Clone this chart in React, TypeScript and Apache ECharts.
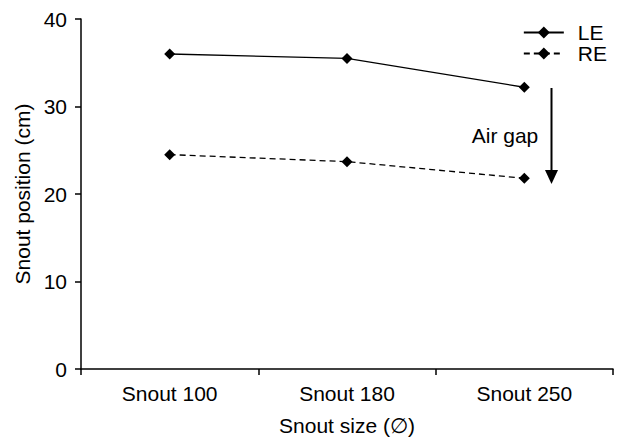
import React, { useEffect, useRef } from "react";
import * as echarts from "echarts";

const categories = ["Snout 100", "Snout 180", "Snout 250"];
const leValues = [36.0, 35.5, 32.2];
const reValues = [24.5, 23.7, 21.8];
const yTicks = [0, 10, 20, 30, 40];

export default function App() {
  const ref = useRef<HTMLDivElement>(null);
  useEffect(() => {
    if (!ref.current) return;
    const chart = echarts.init(ref.current, null, { renderer: "svg" });
    const font = "'Liberation Sans', Arial, sans-serif";
    const fs = 21;
    chart.setOption({
      animation: false,
      textStyle: { fontFamily: font },
      grid: { left: 81, right: 12, top: 19, bottom: 70 },
      legend: {
        orient: "vertical",
        right: 13,
        top: 17,
        itemWidth: 40,
        itemHeight: 15,
        itemGap: 0,
        textStyle: { fontSize: fs, color: "#000", fontFamily: font, padding: [0, 0, 0, 9] },
        data: [{ name: "LE" }, { name: "RE" }],
      },
      xAxis: {
        type: "category",
        data: categories,
        boundaryGap: true,
        axisLine: { lineStyle: { color: "#000", width: 1.5 } },
        axisTick: { show: true, length: 6, lineStyle: { color: "#000", width: 1.5 } },
        axisLabel: { fontSize: fs, color: "#000", margin: 14, fontFamily: font },
        name: "Snout size (\u2205)",
        nameLocation: "middle",
        nameGap: 46,
        nameTextStyle: { fontSize: fs, color: "#000", fontFamily: font },
      },
      yAxis: {
        type: "value",
        min: yTicks[0],
        max: yTicks[yTicks.length - 1],
        interval: 10,
        splitLine: { show: false },
        axisLine: { show: true, lineStyle: { color: "#000", width: 1.5 } },
        axisTick: { show: true, length: 6, lineStyle: { color: "#000", width: 1.5 } },
        axisLabel: { fontSize: fs, color: "#000", margin: 14, fontFamily: font },
        name: "Snout position (cm)",
        nameLocation: "middle",
        nameGap: 45,
        nameTextStyle: { fontSize: fs, color: "#000", fontFamily: font },
      },
      series: [
        {
          name: "LE",
          type: "line",
          data: leValues,
          symbol: "diamond",
          symbolSize: 11,
          itemStyle: { color: "#000" },
          lineStyle: { color: "#000", width: 1.3, type: "solid" },
        },
        {
          name: "RE",
          type: "line",
          data: reValues,
          symbol: "diamond",
          symbolSize: 11,
          itemStyle: { color: "#000" },
          lineStyle: { color: "#000", width: 1.3, type: [6, 4] },
        },
      ],
      graphic: [
        {
          type: "line",
          shape: { x1: 551.5, y1: 88, x2: 551.5, y2: 172 },
          style: { stroke: "#000", lineWidth: 2 },
        },
        {
          type: "polygon",
          shape: { points: [[545, 170], [558, 170], [551.5, 184]] },
          style: { fill: "#000" },
        },
        {
          type: "text",
          x: 505,
          y: 135,
          style: {
            text: "Air gap",
            fontSize: fs,
            fontFamily: font,
            fill: "#000",
            align: "center",
            verticalAlign: "middle",
          },
        },
      ],
    });
    return () => chart.dispose();
  }, []);
  return <div ref={ref} style={{ width: 625, height: 441, position: "absolute", left: 0, top: 0 }} />;
}
